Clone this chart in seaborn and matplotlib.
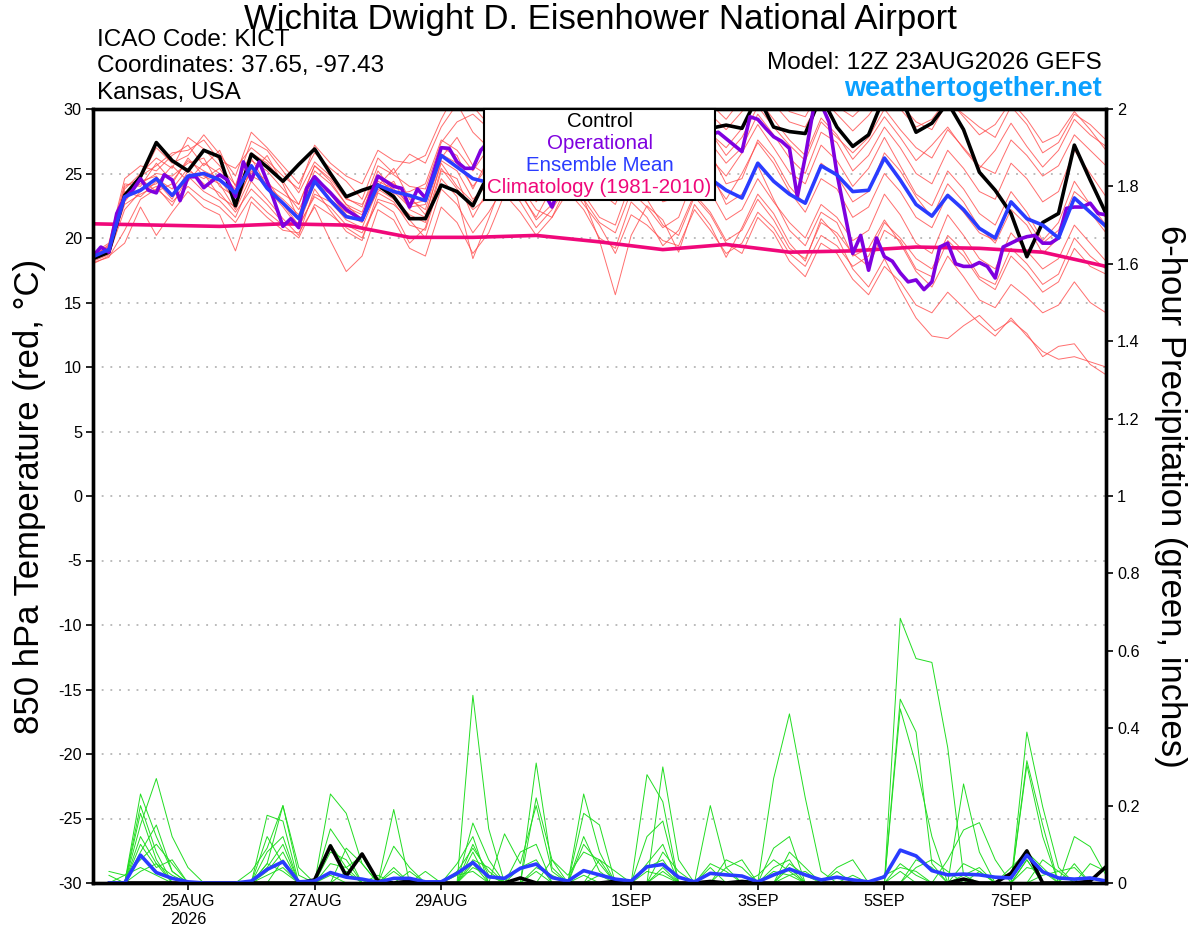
import numpy as np
import pandas as pd
import matplotlib
matplotlib.use("Agg")
import matplotlib.pyplot as plt
import seaborn as sns
from matplotlib.lines import Line2D

# forecast hours since 12Z 23AUG (6-hourly ensemble, 3-hourly operational)
hours = np.arange(65) * 6
hours_op = np.arange(129) * 3
hours_clim = np.arange(17) * 24
hours_precip = hours[1:]

# 850 hPa temperature, ensemble members
temp_members = [
    [18.6, 19.2, 23.8, 25.0, 26.2, 25.4, 27.8, 26.9, 25.6, 24.1, 27.5, 26.8, 25.2, 23.5, 25.9, 24.8,
     23.1, 22.4, 25.6, 24.9, 24.0, 23.8, 27.4, 29.0, 29.6, 28.5, 30.5, 29.8, 28.0, 29.4, 31.0, 29.8,
     27.5, 28.9, 30.6, 29.4, 27.2, 28.8, 29.9, 28.1, 27.0, 28.5, 30.8, 29.2, 27.6, 26.4, 29.3, 28.0,
     26.1, 27.5, 29.4, 27.8, 26.0, 27.2, 28.6, 26.9, 25.4, 26.8, 28.9, 27.1, 25.5, 26.8, 29.2, 28.0,
     27.1],
    [18.3, 18.9, 22.6, 23.4, 24.0, 22.5, 24.8, 23.6, 22.9, 21.6, 24.4, 23.0, 21.5, 20.2, 23.8, 22.1,
     20.5, 19.8, 23.5, 22.8, 21.0, 20.6, 24.6, 23.2, 18.4, 21.5, 24.8, 23.4, 21.6, 23.9, 25.6, 23.0,
     19.8, 15.6, 20.2, 22.5, 21.4, 18.9, 22.6, 21.0, 18.5, 20.8, 23.4, 21.9, 19.6, 18.2, 21.5, 20.1,
     17.6, 16.2, 18.4, 16.0, 13.8, 12.4, 12.2, 13.2, 14.0, 12.8, 13.6, 12.6, 10.8, 11.6, 11.8, 10.2,
     9.4],
    [18.5, 19.5, 24.2, 24.0, 25.8, 24.4, 26.0, 25.2, 24.6, 22.8, 25.2, 24.5, 22.6, 21.0, 24.2, 23.4,
     21.8, 21.2, 24.4, 23.8, 22.6, 22.9, 26.5, 25.8, 24.0, 25.6, 27.2, 26.1, 24.5, 25.8, 27.6, 26.2,
     24.6, 23.5, 26.8, 25.4, 24.0, 25.6, 27.9, 26.2, 24.8, 26.6, 28.8, 27.0, 25.1, 24.2, 27.2, 26.0,
     24.0, 25.4, 27.8, 25.6, 23.4, 22.5, 25.2, 23.8, 21.9, 21.0, 23.6, 22.0, 19.8, 21.2, 24.4, 22.6,
     21.0],
    [18.4, 19.0, 23.0, 24.6, 27.0, 25.8, 26.4, 28.0, 26.5, 24.8, 28.2, 27.0, 25.6, 24.2, 26.6, 25.4,
     24.4, 23.0, 26.2, 25.0, 26.5, 25.8, 28.6, 30.4, 28.2, 27.0, 29.8, 31.2, 29.0, 28.2, 30.6, 30.0,
     28.8, 27.6, 29.9, 31.0, 29.4, 28.0, 30.8, 29.6, 28.4, 29.8, 31.5, 30.4, 29.0, 28.6, 30.9, 29.6,
     28.3, 29.5, 31.2, 30.0, 28.6, 29.2, 30.8, 29.4, 28.0, 28.8, 30.6, 29.2, 27.4, 28.0, 29.8, 28.4,
     26.8],
    [18.2, 18.7, 22.2, 23.6, 24.6, 23.8, 25.4, 24.2, 23.5, 22.0, 23.8, 22.6, 21.2, 21.0, 23.2, 22.4,
     21.0, 20.4, 22.8, 22.0, 19.6, 20.8, 25.2, 24.6, 21.6, 23.8, 26.4, 25.0, 22.8, 24.6, 26.9, 25.4,
     23.0, 24.2, 27.0, 25.8, 23.5, 24.8, 27.2, 25.2, 22.6, 23.4, 25.6, 23.0, 20.6, 19.4, 22.0, 21.2,
     18.6, 19.2, 21.4, 19.6, 17.4, 16.2, 18.6, 17.0, 15.2, 14.6, 16.4, 15.4, 14.2, 14.8, 16.6, 15.0,
     14.2],
    [18.6, 19.4, 23.4, 24.2, 25.0, 24.8, 25.8, 26.2, 24.0, 23.2, 26.0, 25.2, 23.8, 22.2, 24.6, 23.0,
     22.0, 21.5, 24.8, 24.2, 23.2, 21.8, 25.8, 24.0, 22.8, 24.6, 25.6, 24.0, 22.2, 21.6, 24.2, 23.0,
     21.2, 20.4, 23.6, 22.4, 20.8, 21.6, 24.8, 23.6, 21.4, 22.2, 24.6, 22.8, 21.2, 20.0, 22.6, 21.6,
     19.8, 20.6, 23.4, 21.8, 19.6, 18.8, 21.8, 20.2, 18.4, 17.6, 20.4, 19.0, 17.6, 18.4, 21.0, 19.6,
     18.2],
    [18.4, 19.1, 23.6, 23.2, 24.4, 23.0, 25.2, 24.6, 25.4, 23.6, 26.2, 24.0, 23.0, 21.8, 25.2, 24.2,
     22.6, 22.0, 25.2, 23.6, 22.4, 22.6, 27.0, 26.4, 23.8, 26.2, 28.4, 27.2, 25.4, 27.0, 29.2, 28.0,
     26.0, 26.8, 29.0, 27.6, 25.4, 26.6, 28.8, 27.4, 25.8, 27.0, 29.6, 28.0, 26.2, 25.0, 28.2, 27.4,
     25.2, 26.4, 28.6, 27.0, 25.0, 24.2, 26.8, 25.4, 23.6, 23.0, 25.8, 24.6, 22.8, 23.6, 26.8, 25.0,
     23.2],
    [18.0, 18.6, 19.6, 22.4, 20.2, 22.0, 23.6, 22.4, 21.8, 19.0, 22.8, 21.6, 20.6, 20.4, 22.4, 19.8,
     17.4, 18.6, 22.2, 21.4, 19.2, 18.6, 22.4, 21.2, 18.8, 20.4, 23.4, 22.0, 20.2, 21.6, 23.6, 22.2,
     20.0, 19.2, 22.8, 21.6, 19.4, 20.6, 23.4, 22.0, 19.8, 20.6, 23.0, 21.4, 19.2, 18.4, 21.2, 20.4,
     18.8, 17.8, 20.6, 19.8, 17.6, 17.0, 19.8, 18.6, 16.8, 16.0, 18.6, 17.4, 15.8, 16.6, 19.2, 17.8,
     17.2],
    [18.8, 19.6, 24.6, 25.6, 25.2, 26.4, 27.2, 25.6, 26.8, 24.0, 26.6, 25.8, 24.4, 22.6, 25.6, 24.6,
     23.0, 22.6, 24.8, 23.4, 23.6, 24.2, 27.6, 26.8, 25.2, 27.0, 29.0, 28.0, 26.6, 27.6, 29.8, 28.6,
     27.0, 27.8, 30.2, 28.6, 26.6, 27.6, 29.6, 28.2, 26.4, 27.8, 30.2, 28.6, 27.2, 26.0, 29.0, 27.8,
     26.6, 27.8, 30.0, 28.4, 27.0, 26.2, 28.4, 27.0, 25.6, 25.0, 27.6, 26.4, 24.8, 25.6, 28.0, 26.8,
     25.6],
    [18.3, 18.8, 22.8, 24.4, 24.8, 23.2, 24.6, 25.0, 23.2, 22.4, 25.4, 23.8, 22.4, 20.8, 23.4, 22.8,
     21.4, 20.8, 23.8, 23.0, 21.8, 21.2, 25.4, 23.8, 22.2, 23.2, 25.0, 23.6, 21.4, 22.6, 24.8, 23.4,
     21.6, 21.0, 24.4, 23.0, 21.0, 20.2, 23.2, 21.8, 19.6, 18.8, 21.6, 20.4, 18.2, 17.0, 19.6, 18.8,
     16.8, 15.6, 17.8, 16.6, 14.8, 14.2, 15.8, 14.6, 13.4, 12.4, 13.8, 12.4, 11.2, 10.6, 10.8, 10.4,
     10.0],
    [18.7, 19.3, 23.2, 23.8, 24.2, 25.6, 24.4, 25.8, 25.0, 23.8, 25.0, 26.4, 24.2, 21.4, 24.8, 23.6,
     22.4, 21.8, 24.0, 25.4, 23.0, 22.2, 26.2, 27.8, 25.6, 24.8, 27.8, 26.6, 23.8, 25.2, 27.4, 26.8,
     25.4, 24.6, 28.2, 27.0, 24.8, 25.2, 28.0, 26.6, 24.2, 24.6, 27.6, 26.2, 24.0, 22.6, 25.8, 24.8,
     22.8, 23.6, 26.6, 25.2, 23.2, 21.6, 24.2, 22.8, 20.8, 19.6, 22.2, 21.0, 18.8, 20.0, 23.2, 22.0,
     20.4],
    [18.5, 19.0, 23.4, 24.8, 25.6, 26.6, 26.8, 27.6, 26.0, 25.4, 27.0, 26.0, 24.8, 23.8, 27.2, 25.8,
     24.8, 24.2, 26.8, 26.0, 25.8, 26.4, 29.2, 31.5, 30.2, 28.8, 31.2, 30.4, 29.6, 30.8, 32.0, 31.0,
     29.6, 28.4, 31.4, 30.2, 28.8, 29.6, 31.6, 30.4, 29.2, 30.8, 32.0, 31.0, 29.8, 29.4, 31.6, 30.2,
     29.4, 30.6, 31.8, 30.4, 29.0, 28.4, 30.6, 29.6, 28.6, 27.8, 30.2, 28.8, 26.6, 27.4, 29.6, 28.8,
     27.6],
    [18.1, 18.5, 20.6, 23.0, 23.8, 22.8, 24.0, 23.0, 22.4, 21.2, 23.2, 22.0, 21.0, 20.0, 22.6, 21.8,
     20.8, 20.0, 23.0, 22.6, 21.4, 20.0, 23.8, 22.6, 20.4, 22.0, 24.0, 22.8, 20.8, 22.2, 24.2, 22.6,
     21.0, 18.8, 21.8, 21.0, 19.8, 19.4, 22.2, 20.6, 18.8, 19.6, 22.0, 20.8, 18.8, 17.8, 20.2, 19.4,
     17.8, 18.6, 21.2, 20.0, 18.4, 17.6, 20.2, 19.0, 17.0, 16.4, 19.2, 18.0, 16.4, 17.2, 20.0, 18.6,
     17.6],
    [18.6, 19.2, 24.0, 24.6, 23.6, 24.2, 26.2, 24.8, 24.2, 22.2, 24.8, 24.2, 23.4, 22.6, 25.6, 24.4,
     22.6, 21.4, 23.6, 24.4, 22.2, 21.6, 26.0, 25.2, 23.0, 24.2, 26.8, 25.6, 23.4, 24.6, 26.6, 25.6,
     23.6, 22.6, 25.6, 24.6, 22.8, 23.2, 26.2, 24.8, 23.0, 25.0, 27.4, 25.8, 23.6, 22.0, 24.6, 23.8,
     21.6, 22.4, 25.0, 23.6, 21.6, 20.8, 23.4, 22.0, 20.4, 19.8, 22.8, 21.4, 19.6, 20.6, 23.6, 22.6,
     21.6],
]

temp_control = [
    18.4, 18.9, 23.3, 24.75, 27.4, 26.0, 25.2, 26.8, 26.3, 22.5, 26.5, 25.5, 24.4, 25.7, 26.9, 25.0,
    23.2, 23.7, 24.1, 23.2, 21.5, 21.5, 24.1, 23.6, 22.5, 25.0, 26.5, 27.0, 26.0, 27.5, 28.0, 27.0,
    26.5, 27.5, 28.5, 28.0, 27.5, 28.5, 29.0, 28.5, 28.75, 28.5, 31.0, 28.6, 28.25, 28.1, 31.0, 28.6,
    27.1, 28.0, 31.0, 31.0, 28.2, 28.9, 30.5, 28.4, 25.1, 23.7, 21.9, 18.55, 21.2, 21.9, 27.2, 24.5,
    21.9,
]

temp_mean = [
    18.55, 19.1, 23.2, 23.7, 24.6, 23.3, 24.8, 25.0, 24.5, 23.5, 25.6, 23.85, 22.7, 21.5, 24.4, 22.9,
    21.65, 21.4, 24.1, 23.6, 23.3, 22.9, 26.4, 25.5, 24.6, 24.3, 25.5, 25.0, 24.2, 25.2, 26.0, 25.2,
    24.0, 23.4, 25.0, 24.8, 24.0, 24.6, 25.8, 24.6, 23.7, 23.1, 25.8, 24.4, 23.4, 22.7, 25.6, 24.9,
    23.6, 23.7, 26.2, 24.5, 22.6, 21.7, 23.3, 22.2, 20.75, 20.0, 22.8, 21.5, 21.0, 20.0, 23.1, 22.0,
    20.9,
]

temp_oper = [
    18.6, 19.3, 18.9, 21.9, 23.1, 23.7, 24.6, 23.7, 23.5, 24.9, 24.5, 22.9, 24.75, 24.75, 23.9, 24.4,
    24.9, 24.5, 23.2, 25.9, 24.5, 25.9, 24.4, 22.7, 20.9, 21.5, 20.8, 23.85, 24.75, 24.1, 23.5, 22.8,
    22.2, 21.8, 21.4, 23.2, 24.8, 24.4, 24.0, 23.85, 22.4, 23.8, 23.1, 25.0, 27.0, 26.95, 25.9, 25.4,
    25.4, 26.8, 27.5, 27.0, 26.0, 25.0, 24.5, 25.5, 24.0, 23.5, 22.4, 24.0, 25.5, 26.5, 27.0, 27.5,
    28.0, 27.0, 26.5, 27.5, 28.5, 28.0, 27.5, 28.5, 29.0, 28.0, 27.5, 28.5, 29.0, 28.5, 28.0, 28.2,
    27.7, 27.2, 26.7, 29.4, 29.2, 28.5, 27.85, 27.5, 26.95, 23.2, 26.3, 29.9, 30.4, 29.0, 25.0, 21.9,
    18.8, 20.2, 17.5, 20.0, 18.55, 18.2, 17.3, 16.6, 16.75, 16.0, 16.6, 19.3, 19.6, 18.0, 17.8, 17.8,
    18.1, 17.8, 16.9, 19.3, 19.6, 19.9, 20.1, 20.2, 19.6, 19.6, 20.0, 22.3, 22.4, 22.4, 22.7, 21.9,
    21.8,
]

temp_clim = [21.1, 21.0, 20.9, 21.1, 21.0, 20.05, 20.05, 20.2, 19.7, 19.1, 19.5, 18.9, 19.0, 19.3,
             19.2, 18.9, 17.8]

# 6-hour precipitation (inches), ensemble members, steps 1..64
precip_members = [
    [0, 0, .23, .12, .03, 0, 0, 0, 0, 0, .05, .2, .02, 0, 0, 0,
     0, 0, .19, 0, 0, 0, 0, .485, .14, 0, 0, 0, 0, 0, .23, .08,
     0, 0, 0, .3, .06, 0, 0, 0, 0, 0, .27, .437, .22, .03, 0, 0,
     0, 0, .684, .58, .57, .35, .02, 0, 0, 0, .06, 0, 0, 0, 0, 0],
    [0, 0, .15, .27, .12, .04, 0, 0, 0, 0, .175, .16, 0, 0, .23, .18,
     .05, 0, 0, 0, 0, 0, 0, .155, .06, 0, 0, .31, .04, 0, 0, 0,
     0, 0, .28, .21, 0, 0, 0, 0, 0, 0, 0, 0, 0, 0, 0, 0,
     0, 0, .475, .39, .05, 0, 0, 0, 0, 0, .39, .197, .04, 0, 0, 0],
    [0, 0, .2, .08, 0, 0, 0, 0, 0, 0, .12, .05, 0, 0, .14, .08,
     0, 0, 0, 0, 0, 0, .05, .12, 0, 0, 0, .22, .06, 0, .18, .15,
     0, 0, 0, 0, 0, 0, .2, .04, 0, 0, .09, .12, 0, 0, 0, 0,
     0, 0, .45, .305, .12, 0, 0, 0, 0, 0, .316, .15, 0, .05, 0, 0],
    [0, 0, .12, .05, 0, 0, 0, 0, 0, .03, .09, .2, .04, 0, 0, 0,
     0, 0, .095, .04, 0, 0, 0, .08, 0, .127, .05, .2, .03, 0, 0, 0,
     0, 0, .05, .1, 0, 0, 0, 0, 0, 0, .04, .06, 0, 0, 0, 0,
     0, 0, 0, 0, 0, 0, .256, .08, 0, 0, .305, .12, 0, 0, 0, 0],
    [0, 0, .1, .04, .06, 0, 0, 0, 0, 0, .08, .12, 0, 0, 0, .09,
     .05, 0, 0, 0, 0, 0, .03, .09, .03, 0, 0, 0, 0, 0, .1, .05,
     0, 0, .12, .16, 0, 0, 0, .06, .04, 0, 0, .08, .04, 0, 0, 0,
     0, 0, 0, 0, 0, .06, .137, .156, .06, 0, 0, 0, 0, .12, .094, .02],
    [0, 0, .08, .15, .03, 0, 0, 0, 0, 0, 0, .06, 0, 0, .1, .04,
     0, 0, .04, 0, 0, 0, 0, .06, .04, 0, .08, .1, 0, 0, 0, .06,
     .03, 0, 0, .08, .03, 0, 0, 0, 0, .02, .06, .03, 0, 0, .04, .06,
     0, 0, 0, .06, .04, 0, 0, 0, 0, .04, .08, .04, 0, 0, 0, 0],
    [0, .02, .06, .1, .05, 0, 0, 0, 0, 0, .04, .1, 0, 0, .05, .04,
     .07, 0, 0, 0, .03, 0, 0, .04, .02, 0, 0, 0, .06, .02, .08, .06,
     0, 0, .04, .06, 0, 0, .05, .03, 0, 0, 0, .05, .02, 0, 0, 0,
     0, .02, .04, .03, 0, 0, .05, .03, 0, 0, 0, .06, .03, .04, 0, 0],
    [0, 0, .18, .06, 0, 0, 0, 0, 0, 0, .03, .08, 0, 0, .08, .06,
     0, .02, 0, .03, 0, 0, 0, .1, .02, 0, .04, .06, 0, 0, .12, .03,
     0, 0, 0, .04, 0, 0, 0, .04, .06, 0, 0, .04, 0, 0, .03, 0,
     0, 0, 0, .04, .06, .03, 0, 0, 0, 0, .06, 0, 0, 0, .05, .03],
    [.03, .02, .04, .02, 0, 0, 0, 0, 0, 0, .02, .04, 0, 0, 0, .03,
     0, 0, 0, 0, 0, 0, .02, .03, 0, 0, 0, .03, 0, 0, .02, 0,
     0, 0, .03, .02, 0, 0, 0, 0, 0, 0, 0, .02, .03, 0, 0, .02,
     0, 0, .03, 0, 0, 0, .02, .04, 0, 0, 0, .02, .03, 0, 0, 0],
    [.02, 0, .03, .05, .02, 0, 0, 0, 0, 0, .05, .03, 0, 0, .02, 0,
     0, 0, .03, 0, 0, 0, 0, .05, 0, 0, 0, .04, .02, 0, 0, .02,
     0, 0, 0, .03, 0, 0, .04, 0, 0, 0, .03, .02, 0, 0, 0, 0,
     0, 0, .05, .02, 0, 0, 0, .03, 0, 0, .04, .03, 0, 0, 0, 0],
]

precip_control = [
    0, 0, 0, 0, 0, 0, 0, 0, 0, 0, 0, 0, 0, .008, .096, .018,
    .075, .005, 0, .005, 0, 0, 0, 0, 0, 0, .013, 0, 0, 0, 0, 0,
    .004, 0, 0, 0, 0, 0, .004, 0, .004, 0, 0, 0, 0, 0, 0, 0,
    0, 0, 0, 0, 0, 0, .01, 0, 0, .025, .083, 0, 0, 0, .005, .042,
]

precip_mean = [
    0, 0, .072, .027, .012, .003, 0, 0, 0, .005, .035, .055, .003, .005, .027, .015,
    .01, .002, .012, .012, .003, .003, .025, .053, .016, .012, .038, .049, .014, .005, .032, .021,
    .01, .005, .042, .048, .015, .003, .025, .021, .018, .003, .021, .036, .021, .008, .015, .008,
    .003, .016, .085, .07, .032, .021, .023, .021, .015, .013, .072, .029, .013, .01, .013, .005,
]

date_ticks = [36, 84, 132, 204, 252, 300, 348]
date_labels = ["25AUG\n2026", "27AUG", "29AUG", "1SEP", "3SEP", "5SEP", "7SEP"]

legend_labels = ["Control", "Operational", "Ensemble Mean", "Climatology (1981-2010)"]
legend_colors = ["black", "#7f00df", "#2a3cff", "#f0087a"]

# long-form tables for seaborn
temp_df = pd.DataFrame({
    "hour": np.tile(hours, len(temp_members)),
    "member": np.repeat(np.arange(len(temp_members)), len(hours)),
    "temp": np.concatenate(temp_members),
})
precip_df = pd.DataFrame({
    "hour": np.tile(hours_precip, len(precip_members)),
    "member": np.repeat(np.arange(len(precip_members)), len(hours_precip)),
    "precip": np.concatenate(precip_members),
})

sns.set_theme(style="ticks")
plt.rcParams["font.family"] = ["Liberation Sans", "DejaVu Sans"]
plt.rcParams["text.color"] = "black"
plt.rcParams["axes.unicode_minus"] = False

fig = plt.figure(figsize=(12, 9.27), dpi=100)
ax = fig.add_axes([93 / 1200, 44 / 927, 1013 / 1200, 774 / 927])
ax2 = ax.twinx()

for t in range(-25, 30, 5):
    ax.axhline(t, color="#a8a8a8", lw=1.1, ls=(0, (1.2, 4.5)), zorder=0)

sns.lineplot(data=temp_df, x="hour", y="temp", units="member", estimator=None,
             color="#ff4a4a", lw=0.7, alpha=0.8, ax=ax, legend=False)
sns.lineplot(x=hours_clim, y=temp_clim, color="#f0087a", lw=2.6, ax=ax)
sns.lineplot(x=hours, y=temp_control, color="black", lw=2.6, ax=ax)
sns.lineplot(x=hours_op, y=temp_oper, color="#7f00df", lw=2.6, ax=ax)
sns.lineplot(x=hours, y=temp_mean, color="#2a3cff", lw=2.6, ax=ax)

sns.lineplot(data=precip_df, x="hour", y="precip", units="member", estimator=None,
             color="#22dd22", lw=0.7, ax=ax2, legend=False)
sns.lineplot(x=hours_precip, y=precip_control, color="black", lw=2.6, ax=ax2)
sns.lineplot(x=hours_precip, y=precip_mean, color="#2a3cff", lw=2.6, ax=ax2)

ax.set_xlim(0, 384)
ax.set_ylim(-30, 30)
ax2.set_ylim(0, 2)
ax.set_yticks(range(-30, 31, 5))
ax2.set_yticks(np.arange(0, 2.01, 0.2))
ax2.set_yticklabels([f"{v:g}" for v in np.arange(0, 2.01, 0.2).round(1)])
ax.set_xticks(date_ticks)
ax.set_xticklabels(date_labels)
ax.set_xlabel("")
ax.set_ylabel("")
ax2.set_ylabel("")

for a in (ax, ax2):
    for s in a.spines.values():
        s.set_linewidth(2.4)
        s.set_color("black")
    a.tick_params(direction="out", length=5, width=1.2, labelsize=11.7, colors="black",
                  labelcolor="black", pad=3)

handles = [Line2D([], [], lw=0) for _ in legend_labels]
leg = ax2.legend(handles, legend_labels, loc="upper center", bbox_to_anchor=(0.5, 1.0),
                 borderaxespad=0, handlelength=0, handletextpad=0, fancybox=False,
                 framealpha=1, edgecolor="black", fontsize=14.8, labelcolor=legend_colors,
                 labelspacing=0.14, borderpad=0.15)
leg.get_frame().set_linewidth(1.5)
for col in leg._legend_handle_box.get_children():
    col.align = "center"
leg.set_zorder(10)

fig.text(0.5, 1 - 19 / 927, "Wichita Dwight D. Eisenhower National Airport",
         ha="center", va="center", fontsize=25)
fig.text(97 / 1200, 1 - 40 / 927, "ICAO Code: KICT", ha="left", va="center", fontsize=17.5)
fig.text(97 / 1200, 1 - 66 / 927, "Coordinates: 37.65, -97.43", ha="left", va="center", fontsize=17.5)
fig.text(97 / 1200, 1 - 93 / 927, "Kansas, USA", ha="left", va="center", fontsize=17.5)
fig.text(1102 / 1200, 1 - 63 / 927, "Model: 12Z 23AUG2026 GEFS", ha="right", va="center", fontsize=17.5)
fig.text(1102 / 1200, 1 - 89 / 927, "weathertogether.net", ha="right", va="center",
         fontsize=19.5, fontweight="bold", color="#0aa0ff")
fig.text(30 / 1200, 1 - 496 / 927, "850 hPa Temperature (red, \u00b0C)", rotation=90,
         ha="center", va="center", fontsize=25)
fig.text(1170 / 1200, 1 - 496 / 927, "6-hour Precipitation (green, inches)", rotation=270,
         ha="center", va="center", fontsize=25)

fig.savefig("out.png", dpi=100)
